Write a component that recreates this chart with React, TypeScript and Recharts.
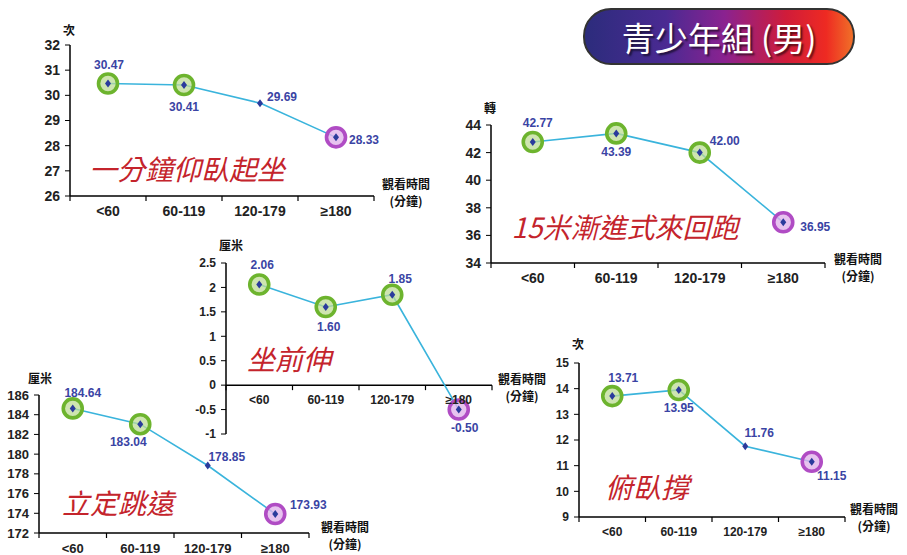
import React from 'react';
import { LineChart, Line, XAxis, YAxis, ReferenceLine } from 'recharts';

const CATS = ['<60', '60-119', '120-179', '≥180'];

const SITUP = [30.47, 30.41, 29.69, 28.33];
const SHUTTLE = [42.77, 43.39, 42.0, 36.95];
const SITREACH = [2.06, 1.6, 1.85, -0.5];
const JUMP = [184.64, 183.04, 178.85, 173.93];
const PUSHUP = [13.71, 13.95, 11.76, 11.15];

const SITUP_TICKS = [26, 27, 28, 29, 30, 31, 32];
const SHUTTLE_TICKS = [34, 36, 38, 40, 42, 44];
const SITREACH_TICKS = [-1, -0.5, 0, 0.5, 1, 1.5, 2, 2.5];
const JUMP_TICKS = [172, 174, 176, 178, 180, 182, 184, 186];
const PUSHUP_TICKS = [9, 10, 11, 12, 13, 14, 15];

// g = green ring, p = purple ring, '' = none
const SITUP_MARKS = ['g', 'g', '', 'p'];
const SHUTTLE_MARKS = ['g', 'g', 'g', 'p'];
const SITREACH_MARKS = ['g', 'g', 'g', 'p'];
const JUMP_MARKS = ['g', 'g', '', 'p'];
const PUSHUP_MARKS = ['g', 'g', '', 'p'];

const SANS = '"Liberation Sans", Arial, "Noto Sans CJK TC", sans-serif';
const CJK = '"Noto Sans CJK TC", "Noto Sans CJK SC", sans-serif';

const CHARTS = [
  {
    title: '一分鐘仰臥起坐', unit: '次', values: SITUP, ticks: SITUP_TICKS, marks: SITUP_MARKS,
    box: { x0: 70, x1: 374, y0: 45, y1: 196 }, fs: 14,
    offs: [[1, -19], [0, 22], [22, -6], [28, 3]],
    titlePos: [187, 168], unitPos: [69, 29], xlabPos: [406, 183],
  },
  {
    title: '15米漸進式來回跑', unit: '轉', values: SHUTTLE, ticks: SHUTTLE_TICKS, marks: SHUTTLE_MARKS,
    box: { x0: 491, x1: 825, y0: 125, y1: 263 }, fs: 14,
    offs: [[5, -19], [0, 19], [25, -12], [32, 5]],
    titlePos: [625, 226], unitPos: [490, 107], xlabPos: [858, 258],
  },
  {
    title: '坐前伸', unit: '厘米', values: SITREACH, ticks: SITREACH_TICKS, marks: SITREACH_MARKS,
    box: { x0: 226, x1: 492, y0: 263, y1: 434 }, fs: 12, zeroAxis: true,
    offs: [[3, -19], [3, 20], [8, -16], [6, 18]],
    titlePos: [289, 358], unitPos: [231, 244], xlabPos: [522, 378],
  },
  {
    title: '立定跳遠', unit: '厘米', values: JUMP, ticks: JUMP_TICKS, marks: JUMP_MARKS,
    box: { x0: 39, x1: 309, y0: 395, y1: 533 }, fs: 13,
    offs: [[10, -15], [-12, 18], [19, -8], [33, -9]],
    titlePos: [118, 502], unitPos: [40, 377], xlabPos: [345, 526],
  },
  {
    title: '俯臥撐', unit: '次', values: PUSHUP, ticks: PUSHUP_TICKS, marks: PUSHUP_MARKS,
    box: { x0: 579, x1: 845, y0: 363, y1: 517 }, fs: 12,
    offs: [[11, -18], [0, 18], [14, -13], [20, 14]],
    titlePos: [647, 486], unitPos: [578, 343], xlabPos: [874, 508],
  },
];

const XTick = (props: any) => {
  const { x, y, payload, index, bw, shift, fs } = props;
  const ay = y - shift;
  return (
    <g>
      <line x1={x - bw / 2} x2={x - bw / 2} y1={ay} y2={ay + 5} stroke="#000" strokeWidth={1.2} />
      {index === CATS.length - 1 && (
        <line x1={x + bw / 2} x2={x + bw / 2} y1={ay} y2={ay + 5} stroke="#000" strokeWidth={1.2} />
      )}
      <text x={x} y={ay + 15} textAnchor="middle" dominantBaseline="central"
        fontSize={fs} fontWeight={700} fill="#222" fontFamily={SANS}>
        {payload.value}
      </text>
    </g>
  );
};

const MiniChart = ({ cfg }: { cfg: any }) => {
  const { x0, x1, y0, y1 } = cfg.box;
  const ML = 60, MT = 30, MR = 50, MB = 30, XH = 24, YW = 30;
  const w = x1 - x0 + ML + MR;
  const h = y1 - y0 + MT + MB;
  const min = cfg.ticks[0];
  const max = cfg.ticks[cfg.ticks.length - 1];
  const bw = (x1 - x0) / CATS.length;
  const shift = cfg.zeroAxis ? ((y1 - y0) * (0 - min)) / (max - min) : 0;
  const data = CATS.map((c, i) => ({ cat: c, v: cfg.values[i] }));

  const renderDot = (p: any) => {
    const { cx, cy, index, value } = p;
    const m = cfg.marks[index];
    const [dx, dy] = cfg.offs[index];
    return (
      <g key={`d${index}`}>
        {m && (
          <circle cx={cx} cy={cy} r={9.5}
            fill={m === 'g' ? 'rgba(190,220,150,0.75)' : 'rgba(225,180,235,0.8)'}
            stroke={m === 'g' ? '#6db42e' : '#b04cc4'} strokeWidth={3.6} />
        )}
        <path d={`M${cx},${cy - 4}L${cx + 3},${cy}L${cx},${cy + 4}L${cx - 3},${cy}Z`} fill="#2b3b9c" />
        <text x={cx + dx} y={cy + dy} textAnchor="middle" dominantBaseline="central"
          fontSize={12} fontWeight={700} fill="#3a44a4" fontFamily={SANS}>
          {Number(value).toFixed(2)}
        </text>
      </g>
    );
  };

  return (
    <div style={{ position: 'absolute', left: x0 - ML, top: y0 - MT }}>
      <LineChart width={w} height={h} data={data}
        margin={{ top: MT, right: MR, bottom: MB - XH, left: ML - YW }}>
        <XAxis dataKey="cat" height={XH} interval={0} padding={{ left: bw / 2, right: bw / 2 }}
          axisLine={cfg.zeroAxis ? false : { stroke: '#000', strokeWidth: 1.5 }}
          tickLine={false} tickSize={0} tickMargin={0}
          tick={<XTick bw={bw} shift={shift} fs={cfg.fs} />} />
        <YAxis domain={[min, max]} ticks={cfg.ticks} width={YW} interval={0}
          axisLine={{ stroke: '#000', strokeWidth: 1.5 }} tickLine={{ stroke: '#000' }}
          tickSize={5} tickMargin={5}
          tick={{ fontSize: cfg.fs, fontWeight: 700, fill: '#222', fontFamily: SANS }} />
        {cfg.zeroAxis && <ReferenceLine y={0} stroke="#000" strokeWidth={1.5} />}
        <Line dataKey="v" stroke="#3ab4dc" strokeWidth={1.6} dot={renderDot}
          activeDot={false} isAnimationActive={false} />
      </LineChart>
    </div>
  );
};

const centered = (x: number, y: number): React.CSSProperties => ({
  position: 'absolute', left: x, top: y, transform: 'translate(-50%, -50%)', whiteSpace: 'nowrap',
});

export default function App() {
  return (
    <div style={{ position: 'absolute', left: 0, top: 0, width: 907, height: 555, background: '#fff', overflow: 'hidden' }}>
      {CHARTS.map((c, i) => (
        <React.Fragment key={i}>
          <MiniChart cfg={c} />
          <div style={{ ...centered(c.titlePos[0], c.titlePos[1]), fontFamily: CJK, fontStyle: 'italic', fontSize: 28, color: '#c4242c' }}>
            {c.title}
          </div>
          <div style={{ ...centered(c.unitPos[0], c.unitPos[1]), fontFamily: CJK, fontWeight: 700, fontSize: 12, color: '#111' }}>
            {c.unit}
          </div>
          <div style={{ ...centered(c.xlabPos[0], c.xlabPos[1] + 9), fontFamily: CJK, fontWeight: 700, fontSize: 12, color: '#111', textAlign: 'center', lineHeight: '17px' }}>
            觀看時間<br />(分鐘)
          </div>
        </React.Fragment>
      ))}
      <div style={{
        position: 'absolute', left: 583, top: 8, width: 268, height: 53, borderRadius: 28,
        border: '2px solid #333',
        background: 'linear-gradient(90deg, #2c2c7c 0%, #4a2a92 30%, #8a2290 52%, #d01c3a 75%, #ee2a22 90%, #f07028 100%)',
        display: 'flex', alignItems: 'center', justifyContent: 'center',
        color: '#fff', fontFamily: CJK, fontSize: 33, textShadow: '2px 2px 2px rgba(0,0,0,0.6)',
      }}>
        青少年組 (男)
      </div>
    </div>
  );
}
